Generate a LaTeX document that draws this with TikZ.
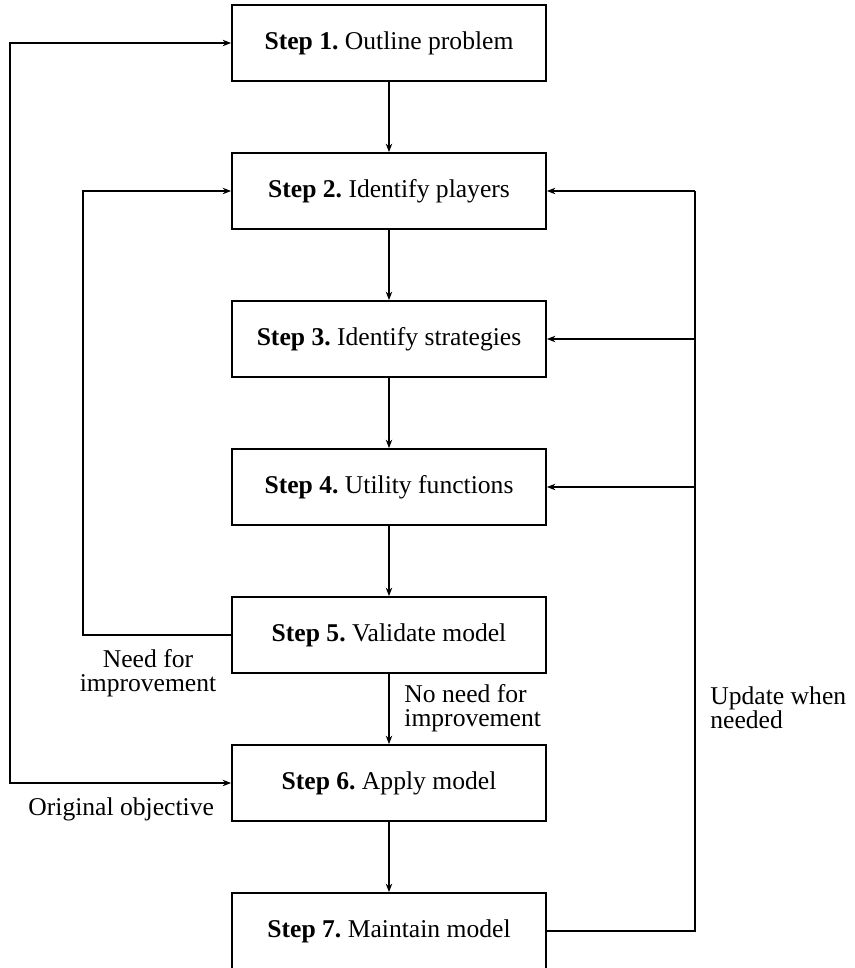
\documentclass[tikz,border=0pt]{standalone}
\usepackage{fontspec}
\setmainfont{Liberation Serif}
\usetikzlibrary{arrows.meta}
\begin{document}
\begin{tikzpicture}[x=0.5pt,y=-0.5pt,
  font=\fontsize{12.8}{12}\selectfont\frenchspacing,
  stepbox/.style={draw,line width=0.9pt,minimum width=157pt,minimum height=38pt,inner sep=0pt},
  conn/.style={line width=0.9pt},
  tip/.tip={Stealth[length=4.2pt,width=3.2pt,inset=1.3pt]},
  arr/.style={conn,-tip},
  lbl/.style={inner sep=0pt}]
\useasboundingbox (0,0) rectangle (855,968);
\node[stepbox] (s1) at (389,43) {\textbf{Step 1.} Outline problem};
\node[stepbox] (s2) at (389,191) {\textbf{Step 2.} Identify players};
\node[stepbox] (s3) at (389,339) {\textbf{Step 3.} Identify strategies};
\node[stepbox] (s4) at (389,487) {\textbf{Step 4.} Utility functions};
\node[stepbox] (s5) at (389,635) {\textbf{Step 5.} Validate model};
\node[stepbox] (s6) at (389,783) {\textbf{Step 6.} Apply model};
\node[stepbox] (s7) at (389,931) {\textbf{Step 7.} Maintain model};
\draw[arr] (s1) -- (s2);
\draw[arr] (s2) -- (s3);
\draw[arr] (s3) -- (s4);
\draw[arr] (s4) -- (s5);
\draw[arr] (s5) -- (s6);
\draw[arr] (s6) -- (s7);
% outer loop
\coordinate (lo) at (10,0);
\draw[conn,tip-tip] (s1.west) -| (lo |- s6.west) -- (s6.west);
% improvement loop
\coordinate (li) at (83,0);
\draw[arr] (s5.west) -| (li |- s2.west) -- (s2.west);
% right loop
\coordinate (lr) at (695,0);
\draw[conn,line width=1.3pt] (s7.east) -| (lr |- s4.east);
\draw[conn,line width=1.1pt] (lr |- s4.east) -- (lr |- s3.east);
\draw[conn] (lr |- s3.east) -- (lr |- s2.east);
\draw[arr] (lr |- s2.east) -- (s2.east);
\draw[arr] (lr |- s3.east) -- (s3.east);
\draw[arr] (lr |- s4.east) -- (s4.east);
% labels
\node[lbl,anchor=base,align=center] (t1) at (148,691) {Need for\\improvement};
\node[lbl,anchor=base west,align=left] (t2) at (404,726) {No need for\\improvement};
\node[lbl,anchor=base west,align=left] (t3) at (710,728) {Update when\\needed};
\node[lbl,anchor=base west] (t4) at (28,815) {Original objective};
\end{tikzpicture}
\end{document}
